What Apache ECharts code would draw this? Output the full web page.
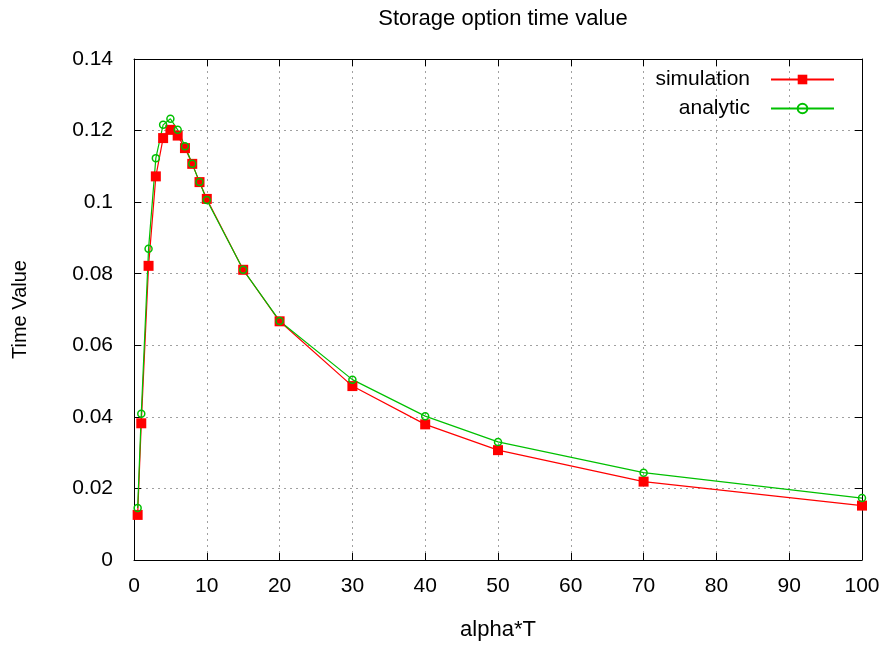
<!DOCTYPE html>
<html>
<head>
<meta charset="utf-8">
<script src="https://cdn.jsdelivr.net/npm/echarts@6/dist/echarts.min.js"></script>
<style>
  html, body { margin: 0; padding: 0; background: #fff; }
  #chart { width: 885px; height: 646px; }
</style>
</head>
<body>
<div id="chart"></div>
<script>
// alpha*T values
const alphaT = [0.5, 1, 2, 3, 4, 5, 6, 7, 8, 9, 10, 15, 20, 30, 40, 50, 70, 100];
// time value
const simulation = [0.0126, 0.0382, 0.0822, 0.1072, 0.1179, 0.1202, 0.1186, 0.1151, 0.1107, 0.1056, 0.1009, 0.0811, 0.0667, 0.0486, 0.0379, 0.0307, 0.0219, 0.0152];
const analytic = [0.0145, 0.0409, 0.0870, 0.1123, 0.1216, 0.1233, 0.1202, 0.1156, 0.1107, 0.1056, 0.1006, 0.0811, 0.0668, 0.0504, 0.0402, 0.0330, 0.0244, 0.0173];

const font = 'Liberation Sans';
const pairs = (ys) => alphaT.map((x, i) => [x, ys[i]]);

const chart = echarts.init(document.getElementById('chart'));

const gridLine = { show: true, lineStyle: { color: '#a0a0a0', type: [2, 4], width: 1 } };
const tick = { show: true, inside: true, length: 7, lineStyle: { color: '#000' } };

chart.setOption({
  backgroundColor: '#fff',
  animation: false,
  title: {
    text: 'Storage option time value',
    left: 498, top: 3, textAlign: 'center',
    textStyle: { fontFamily: font, fontSize: 22, fontWeight: 'normal', color: '#000' }
  },
  legend: {
    right: 50, top: 69, orient: 'vertical', align: 'right', padding: 0,
    itemWidth: 63, itemHeight: 12, itemGap: 8,
    textStyle: { fontFamily: font, fontSize: 21, color: '#000', padding: [0, 16, 0, 0] },
    data: ['simulation', 'analytic']
  },
  grid: { left: 134, right: 23, top: 59, bottom: 84 },
  xAxis: [{
    type: 'value', min: 0, max: 100, interval: 10,
    name: 'alpha*T', nameLocation: 'middle', nameGap: 59,
    nameTextStyle: { fontFamily: font, fontSize: 22, color: '#000' },
    axisLine: { show: true, lineStyle: { color: '#000', width: 1 } },
    axisTick: tick,
    axisLabel: { fontFamily: font, fontSize: 21, color: '#000', margin: 16 },
    splitLine: gridLine
  }, {
    type: 'value', min: 0, max: 100, interval: 10, position: 'top',
    axisLine: { show: true, onZero: false, lineStyle: { color: '#000', width: 1 } },
    axisTick: tick,
    axisLabel: { show: false }, splitLine: { show: false }
  }],
  yAxis: [{
    type: 'value', min: 0, max: 0.14, interval: 0.02,
    name: 'Time Value', nameLocation: 'middle', nameGap: 104, nameRotate: 90,
    nameTextStyle: { fontFamily: font, fontSize: 20, color: '#000' },
    axisLine: { show: true, lineStyle: { color: '#000', width: 1 } },
    axisTick: tick,
    axisLabel: { fontFamily: font, fontSize: 21, color: '#000', margin: 21 },
    splitLine: gridLine
  }, {
    type: 'value', min: 0, max: 0.14, interval: 0.02, position: 'right',
    axisLine: { show: true, onZero: false, lineStyle: { color: '#000', width: 1 } },
    axisTick: tick,
    axisLabel: { show: false }, splitLine: { show: false }
  }],
  series: [{
    name: 'simulation', type: 'line', data: pairs(simulation),
    color: '#ff0000',
    symbol: 'rect', symbolSize: 10,
    lineStyle: { width: 1.2, color: '#ff0000' },
    itemStyle: { color: '#ff0000' }
  }, {
    name: 'analytic', type: 'line', data: pairs(analytic),
    color: '#00c000',
    symbol: 'circle', symbolSize: 7,
    lineStyle: { width: 1.2, color: '#00c000' },
    itemStyle: { color: 'rgba(0,0,0,0)', borderColor: '#00c000', borderWidth: 1.5 }
  }]
});
</script>
</body>
</html>
